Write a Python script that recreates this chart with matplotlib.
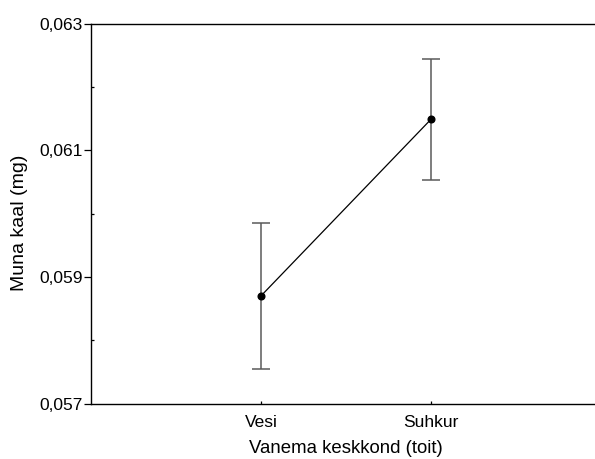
import matplotlib
matplotlib.use('Agg')
import matplotlib.pyplot as plt
from matplotlib.ticker import FixedLocator, FuncFormatter

plt.rcParams['font.family'] = ['Liberation Sans', 'DejaVu Sans']

groups = ['Vesi', 'Suhkur']
means = [0.0587, 0.06149]
errs = [0.00115, 0.00096]
yticks = [0.057, 0.059, 0.061, 0.063]
yminor = [0.058, 0.060, 0.062]

fig = plt.figure(figsize=(5.95, 4.59), dpi=100)
ax = fig.add_axes([91 / 595, 55.5 / 459, 510 / 595, 379.8 / 459])

xpos = list(range(len(groups)))
ax.errorbar(xpos, means, yerr=errs, fmt='none', ecolor='#5a5a5a',
            elinewidth=1.1, capsize=6.2, capthick=1.1)
ax.plot(xpos, means, color='black', linewidth=0.9, marker='o',
        markersize=4.8, markerfacecolor='black', markeredgecolor='black')

ax.set_xlim(-1, len(groups))
ax.set_ylim(yticks[0], yticks[-1])

ax.set_xticks(xpos)
ax.set_xticklabels(groups)
ax.yaxis.set_major_locator(FixedLocator(yticks))
ax.yaxis.set_minor_locator(FixedLocator(yminor))
ax.yaxis.set_major_formatter(FuncFormatter(lambda v, p: ('%.3f' % v).replace('.', ',')))

ax.tick_params(axis='y', which='major', direction='out', length=5, width=0.9,
               pad=1, labelsize=12.5)
ax.tick_params(axis='y', which='minor', direction='in', length=2.5, width=0.9)
ax.tick_params(axis='x', which='major', direction='in', length=2, width=0.9,
               pad=8.5, labelsize=12.5)

ax.spines['right'].set_visible(False)
for s in ['top', 'left', 'bottom']:
    ax.spines[s].set_linewidth(1.0)

ax.set_xlabel('Vanema keskkond (toit)', fontsize=13.4)
ax.set_ylabel('Muna kaal (mg)', fontsize=14)
ax.xaxis.set_label_coords(0.5, -0.096)
ax.yaxis.set_label_coords(-0.124, 0.477)

fig.savefig('out.png', dpi=100)
